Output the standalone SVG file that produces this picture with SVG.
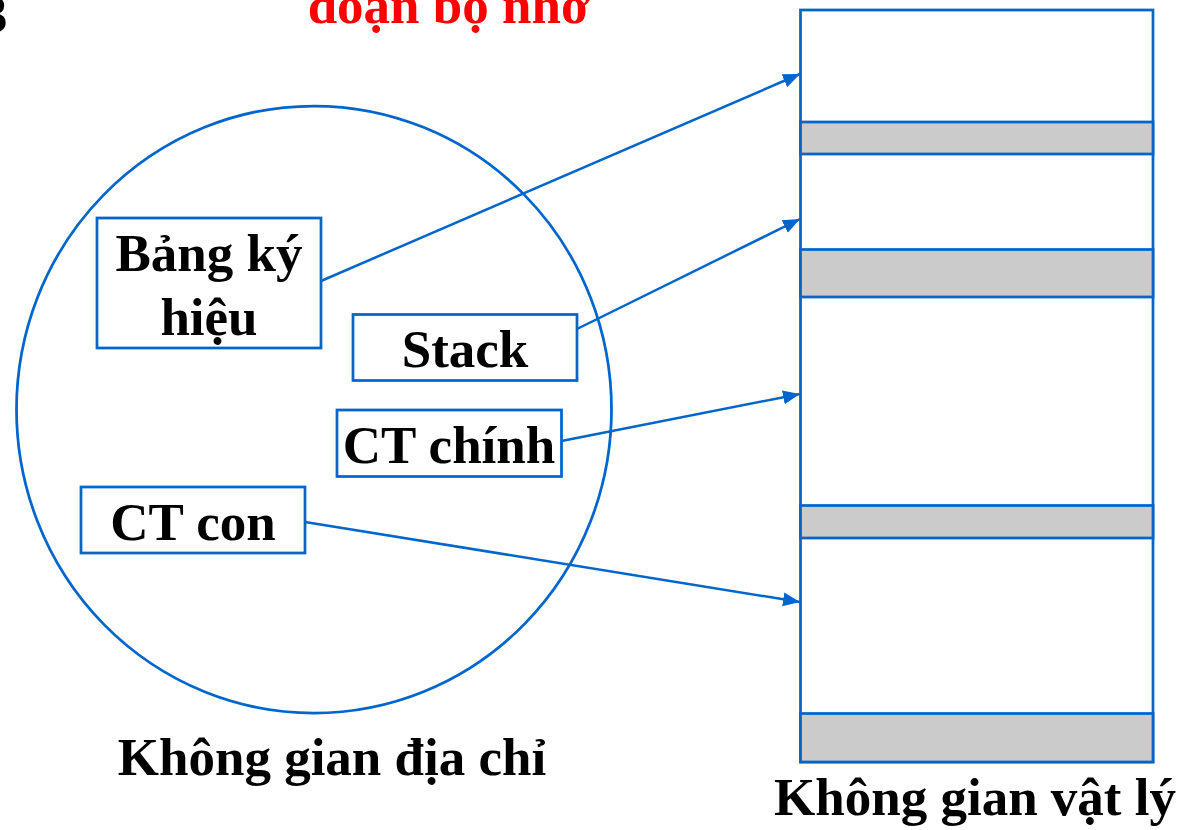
<svg xmlns="http://www.w3.org/2000/svg" width="1193" height="830" viewBox="0 0 1193 830">
  <style>
    text { font-family: "Liberation Serif", "Times New Roman", serif; font-weight: bold; font-size: 53px; fill: #000; }
    .title { fill: #FF0000; }
    .box { fill: #FFFFFF; stroke: #0066CC; stroke-width: 2.75; }
    .mem { fill: #FFFFFF; stroke: #0066CC; stroke-width: 2.75; }
    .used { fill: #CBCBCB; stroke: #0066CC; stroke-width: 2.75; }
    .link { fill: none; stroke: #0066CC; stroke-width: 2.5; marker-end: url(#arrow); }
  </style>
  <defs>
    <marker id="arrow" markerUnits="userSpaceOnUse" markerWidth="20" markerHeight="16" refX="17" refY="8" orient="auto">
      <path d="M0,1 L17,8 L0,15 Z" fill="#0066CC"/>
    </marker>
  </defs>

  <rect width="1193" height="830" fill="#FFFFFF"/>

  <!-- heading (cut at top edge) -->
  <text x="-19" y="32">3</text>
  <text class="title" x="449" y="23" text-anchor="middle">đoạn bộ nhớ</text>

  <!-- logical address space -->
  <g id="address-space">
    <ellipse cx="314" cy="409.5" rx="297.5" ry="303.5" fill="none" stroke="#0066CC" stroke-width="2.75"/>
    <text x="332" y="775" text-anchor="middle">Không gian địa chỉ</text>
  </g>

  <!-- physical memory column -->
  <g id="physical-memory">
    <rect class="mem" x="800.5" y="10" width="352.5" height="752"/>
    <rect class="used" x="800.5" y="122" width="352.5" height="32"/>
    <rect class="used" x="800.5" y="249.5" width="352.5" height="47.5"/>
    <rect class="used" x="800.5" y="505.5" width="352.5" height="32.5"/>
    <rect class="used" x="800.5" y="713.5" width="352.5" height="48.5"/>
    <text x="975" y="815" text-anchor="middle">Không gian vật lý</text>
  </g>

  <!-- segments -->
  <g id="seg-symbols">
    <rect class="box" x="97" y="218" width="224" height="130"/>
    <text x="209" y="271" text-anchor="middle">Bảng ký</text>
    <text x="209" y="335" text-anchor="middle">hiệu</text>
  </g>
  <g id="seg-stack">
    <rect class="box" x="353" y="314.5" width="224" height="66"/>
    <text x="465" y="367" text-anchor="middle">Stack</text>
  </g>
  <g id="seg-main">
    <rect class="box" x="337" y="410" width="224.5" height="66.5"/>
    <text x="449" y="463" text-anchor="middle">CT chính</text>
  </g>
  <g id="seg-sub">
    <rect class="box" x="81" y="487" width="224" height="66"/>
    <text x="193" y="540" text-anchor="middle">CT con</text>
  </g>

  <!-- segment to memory mappings -->
  <g id="connectors">
    <line class="link" x1="321" y1="281" x2="800" y2="74"/>
    <line class="link" x1="577" y1="329" x2="800" y2="219"/>
    <line class="link" x1="561.5" y1="441" x2="800" y2="394"/>
    <line class="link" x1="305" y1="522" x2="800" y2="602"/>
  </g>
</svg>
